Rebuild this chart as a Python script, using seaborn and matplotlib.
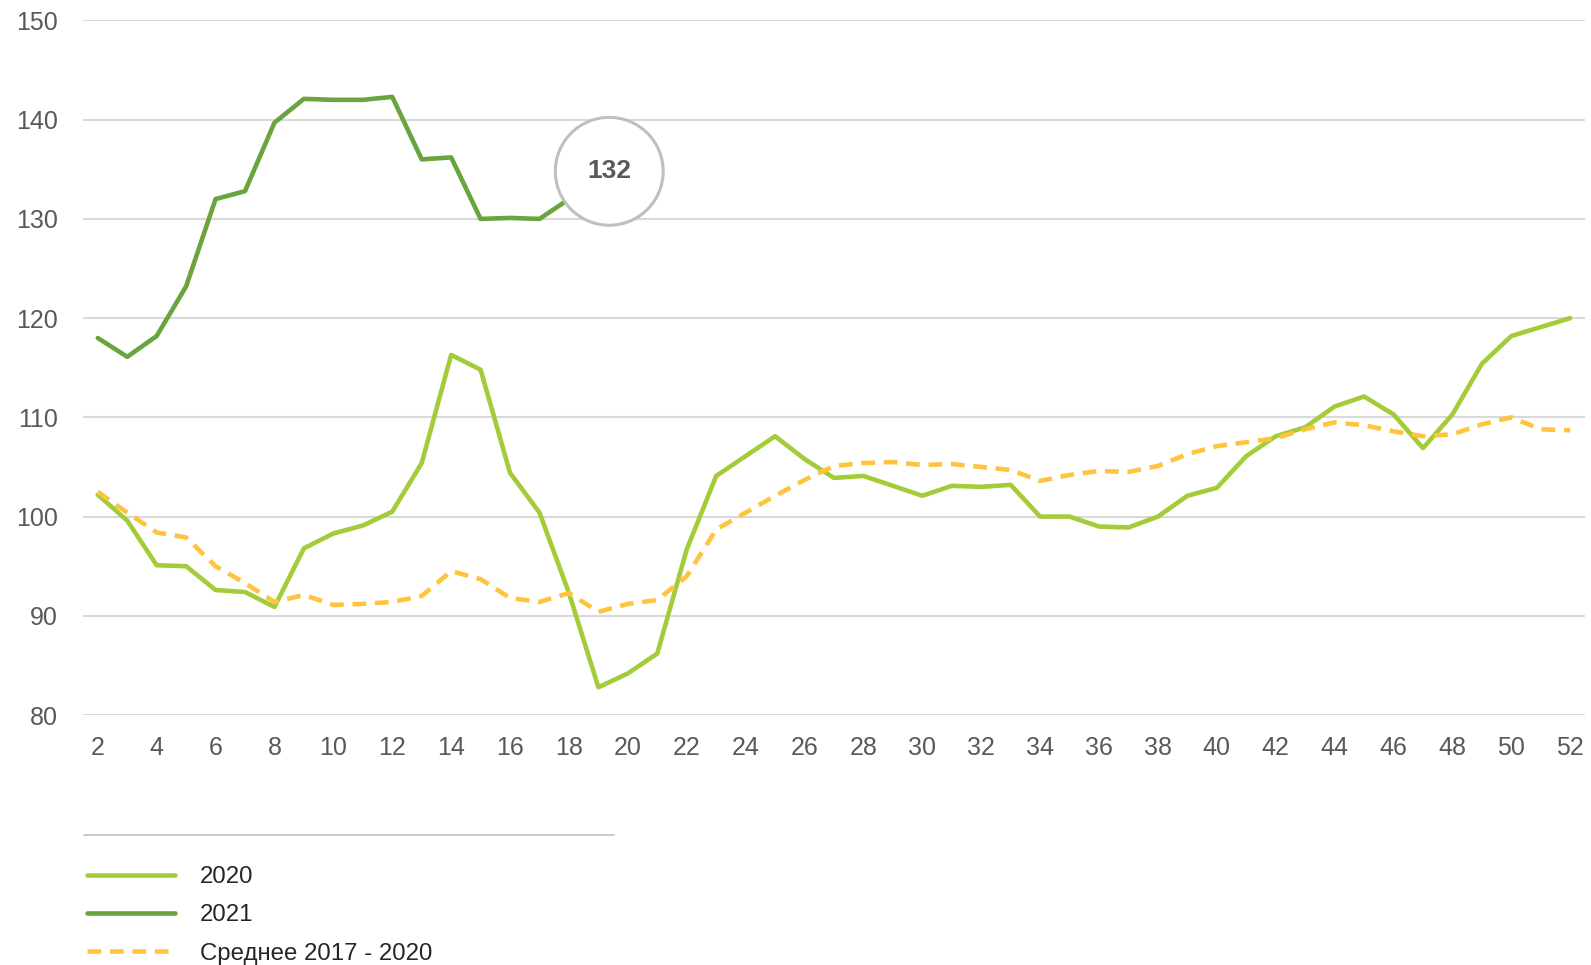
import pandas as pd
import numpy as np
import matplotlib
matplotlib.use("Agg")
import matplotlib.pyplot as plt
import seaborn as sns
from matplotlib.lines import Line2D

# weekly index values
weeks_2020 = list(range(2, 53))
vals_2020 = [102.2, 99.6, 95.1, 95.0, 92.6, 92.4, 90.9, 96.8, 98.3, 99.1, 100.5,
             105.4, 116.3, 114.8, 104.4, 100.4, 92.3, 82.8, 84.2, 86.2, 96.7,
             104.1, 106.1, 108.1, 105.8, 103.9, 104.1, 103.1, 102.1, 103.1, 103.0,
             103.2, 100.0, 100.0, 99.0, 98.9, 100.0, 102.1, 102.9, 106.1, 108.1,
             109.0, 111.1, 112.1, 110.3, 106.9, 110.3, 115.4, 118.2, 119.1, 120.0]

weeks_2021 = list(range(2, 19))
vals_2021 = [118.0, 116.1, 118.2, 123.2, 132.0, 132.8, 139.7, 142.1, 142.0, 142.0,
             142.3, 136.0, 136.2, 130.0, 130.1, 130.0, 132.0]

weeks_avg = list(range(2, 53))
vals_avg = [102.5, 100.4, 98.4, 97.9, 95.0, 93.3, 91.4, 92.1, 91.1, 91.2, 91.4,
            92.0, 94.5, 93.7, 91.8, 91.4, 92.3, 90.4, 91.2, 91.6, 94.0, 98.7,
            100.4, 102.1, 103.7, 105.1, 105.4, 105.5, 105.2, 105.3, 105.0, 104.7,
            103.6, 104.2, 104.6, 104.5, 105.1, 106.3, 107.1, 107.5, 107.9, 108.8,
            109.5, 109.2, 108.6, 108.1, 108.3, 109.3, 110.0, 108.8, 108.7]

labels = ["2020", "2021", "Среднее 2017 - 2020"]
colors = {"2020": "#A3CC38", "2021": "#6AA43E", "Среднее 2017 - 2020": "#FFC43D"}
last_label = "132"

df = pd.concat([
    pd.DataFrame({"week": weeks_2020, "value": vals_2020, "series": labels[0]}),
    pd.DataFrame({"week": weeks_2021, "value": vals_2021, "series": labels[1]}),
    pd.DataFrame({"week": weeks_avg, "value": vals_avg, "series": labels[2]}),
])

sns.set_style("white")
plt.rcParams["font.family"] = ["Liberation Sans", "DejaVu Sans"]

fig = plt.figure(figsize=(15.91, 9.65), dpi=100)
ax = fig.add_axes([0.0522, 0.259, 0.944, 0.7198])

dash_map = {labels[0]: "", labels[1]: "", labels[2]: (3.0, 1.9)}
sns.lineplot(data=df, x="week", y="value", hue="series", style="series",
             palette=colors, dashes=dash_map, linewidth=3.3, ax=ax,
             legend=False, sort=True)
for ln in ax.get_lines():
    ln.set_solid_joinstyle("round")
    ln.set_solid_capstyle("round")

ax.set_xlim(1.5, 52.5)
ax.set_ylim(80, 150)
ax.set_xticks(range(2, 53, 2))
ax.set_yticks(range(80, 151, 10))
ax.yaxis.grid(True, color="#D9D9D9", linewidth=1.5)
ax.xaxis.grid(False)
ax.set_axisbelow(True)
for s in ax.spines.values():
    s.set_visible(False)
ax.tick_params(axis="both", length=0, labelsize=18, colors="#595959")
ax.tick_params(axis="y", pad=18)
ax.tick_params(axis="x", pad=15)
ax.set_xlabel("")
ax.set_ylabel("")

# bubble with the latest value
ax.annotate(last_label, xy=(weeks_2021[-1], vals_2021[-1]), xytext=(29, 20),
            textcoords="offset points", ha="center", va="center",
            fontsize=19, fontweight="bold", color="#595959", zorder=10,
            bbox=dict(boxstyle="circle,pad=1.21", fc="white", ec="#BFBFBF", lw=2.2))

# separator line above legend
fig.add_artist(Line2D([84 / 1591, 614 / 1591], [1 - 835 / 965, 1 - 835 / 965],
                      color="#BFBFBF", linewidth=1.2))

handles = [Line2D([], [], color=colors[labels[0]], linewidth=3.3),
           Line2D([], [], color=colors[labels[1]], linewidth=3.3),
           Line2D([], [], color=colors[labels[2]], linewidth=3.3, dashes=(3.0, 1.9))]
fig.legend(handles, labels, loc="upper left", bbox_to_anchor=(0.0547, 1 - 866 / 965),
           frameon=False, fontsize=17.3, handlelength=3.65, handletextpad=1.04,
           labelspacing=0.68, borderaxespad=0, borderpad=0)

fig.savefig("out.png", dpi=100)
